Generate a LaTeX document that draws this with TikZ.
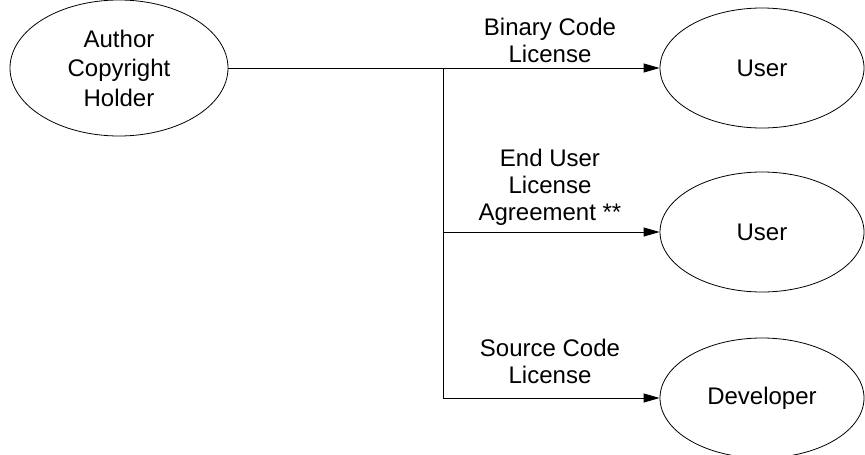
\documentclass[tikz,border=0pt]{standalone}
\usepackage{fontspec}
\setmainfont{Liberation Sans}
\usetikzlibrary{shapes.geometric,arrows.meta}
\tikzstyle{party}=[ellipse,draw,inner sep=0pt,minimum width=204pt,minimum height=120pt,
  align=center,font=\fontsize{24}{29.5}\selectfont]
\tikzstyle{license}=[align=center,inner sep=0pt,font=\fontsize{24}{27}\selectfont]
\tikzstyle{grant}=[-{Triangle[length=16pt,width=9pt]}]

\begin{document}
\begin{tikzpicture}[x=1pt,y=-1pt,line width=0.8pt]
  \useasboundingbox (0,0) rectangle (865,455);
  \def\forkx{443};
  \node[party,minimum width=218pt,minimum height=136pt] (holder) at (119,68)
    {Author\\Copyright\\Holder};

  \node[party] (1 user) at (762,68) {User};
  \node[party] (2 user) at (762,232) {User};
  \node[party] (3 user) at (762,398) {Developer};

  \node[license] (1 license) at (550,40) {Binary Code\\License};
  \node[license] (2 license) at (550,187) {End User\\License\\Agreement **};
  \node[license] (3 license) at (550,361) {Source Code\\License};

  \coordinate (1 fork) at (\forkx,68);
  \coordinate (2 fork) at (\forkx,232);
  \coordinate (3 fork) at (\forkx,398);

  \draw (holder.east) -- (1 fork) -- (3 fork);
  \foreach \x in {1,2,3} {
    \draw[grant] (\x \space fork) -- (\x \space user.west);
  }
\end{tikzpicture}
\end{document}
